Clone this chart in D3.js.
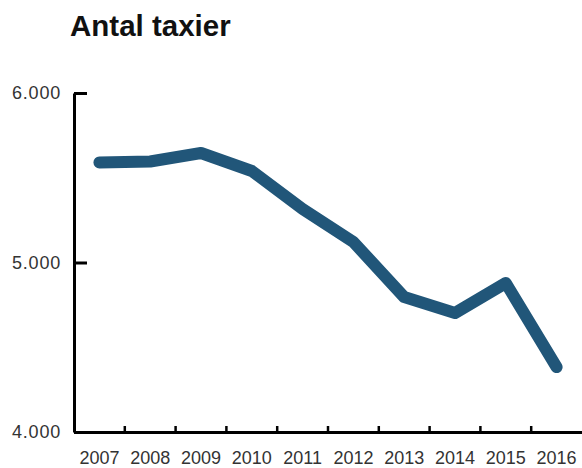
<!DOCTYPE html>
<html>
<head>
<meta charset="utf-8">
<script src="https://cdn.jsdelivr.net/npm/d3@7"></script>
<style>
  html, body { margin: 0; padding: 0; background: #fff; }
  svg { display: block; }
</style>
</head>
<body>
<div id="chart"></div>
<script>
// data
const years = ["2007", "2008", "2009", "2010", "2011", "2012", "2013", "2014", "2015", "2016"];
const taxis = [5590, 5596, 5646, 5540, 5316, 5121, 4796, 4702, 4879, 4383];
const yTicks = [4000, 5000, 6000];

const width = 582, height = 468;
const margin = { top: 93, right: 0, bottom: 36, left: 74 };

const svg = d3.select("#chart")
  .append("svg")
  .attr("width", width)
  .attr("height", height)
  .style("font-family", "'Liberation Sans', Arial, sans-serif");

const x = d3.scaleBand()
  .domain(years)
  .range([margin.left, width - margin.right])
  .padding(0);

const y = d3.scaleLinear()
  .domain([4000, 6000])
  .range([height - margin.bottom, margin.top]);

// title
svg.append("text")
  .attr("x", 70)
  .attr("y", 36)
  .attr("font-size", 29.5)
  .attr("font-weight", "bold")
  .attr("fill", "#111")
  .text("Antal taxier");

// y axis: ticks point inward
const yAxis = svg.append("g")
  .attr("transform", `translate(${margin.left},0)`)
  .call(d3.axisLeft(y)
    .tickValues(yTicks)
    .tickSizeInner(-13)
    .tickSizeOuter(0)
    .tickPadding(13)
    .tickFormat(d => d3.format(",")(d).replace(",", ".")));
yAxis.select(".domain").attr("stroke", "#000").attr("stroke-width", 3);
yAxis.selectAll(".tick line").attr("stroke", "#000").attr("stroke-width", 3);
yAxis.selectAll(".tick text")
  .attr("font-size", 18)
  .attr("letter-spacing", 0.8)
  .attr("fill", "#333");

// x axis: labels centred in each band, ticks at band boundaries
const xAxis = svg.append("g")
  .attr("transform", `translate(0,${height - margin.bottom})`)
  .call(d3.axisBottom(x).tickSize(0).tickPadding(19));
xAxis.select(".domain").attr("stroke", "#000").attr("stroke-width", 3);
xAxis.selectAll(".tick text")
  .attr("font-size", 18)
  .attr("fill", "#333");

xAxis.selectAll(".bound")
  .data(years.slice(1))
  .join("line")
  .attr("class", "bound")
  .attr("x1", d => x(d))
  .attr("x2", d => x(d))
  .attr("y1", 0)
  .attr("y2", -6)
  .attr("stroke", "#000")
  .attr("stroke-width", 2.5);

// the line
const line = d3.line()
  .x((d, i) => x(years[i]) + x.bandwidth() / 2)
  .y(d => y(d));

svg.append("path")
  .datum(taxis)
  .attr("d", line)
  .attr("fill", "none")
  .attr("stroke", "#215679")
  .attr("stroke-width", 12)
  .attr("stroke-linecap", "round")
  .attr("stroke-linejoin", "round");
</script>
</body>
</html>
